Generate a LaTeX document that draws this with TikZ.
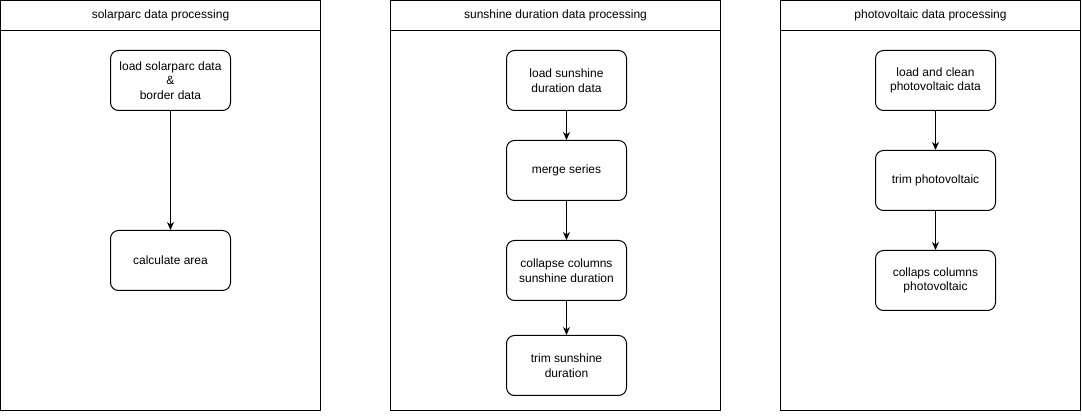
\documentclass[tikz,border=0pt]{standalone}
\usepackage{fontspec}
\setmainfont{Liberation Sans}
\usetikzlibrary{arrows.meta}
\begin{document}
\begin{tikzpicture}[x=1pt,y=-1pt,
  lane/.style={draw,line width=1pt,minimum height=30pt,inner sep=0pt,anchor=north west,font=\fontsize{12}{14}\selectfont},
  lanebody/.style={draw,line width=1pt,inner sep=0pt,anchor=north west},
  box/.style={draw,line width=1pt,rounded corners=8pt,minimum width=120pt,minimum height=60pt,inner sep=0pt,align=center,anchor=north west,font=\fontsize{12}{14.5}\selectfont},
  arr/.style={line width=1pt,-{Stealth[length=8pt,width=7pt,inset=2.5pt]}}]
\useasboundingbox (0,0) rectangle (1082,419);
% lanes
\node[lanebody,minimum width=320pt,minimum height=410pt] (L1) at (0,0) {};
\node[lane,minimum width=320pt] (H1) at (0,0) {solarparc data processing};
\node[lanebody,minimum width=330pt,minimum height=410pt] (L2) at (390,0) {};
\node[lane,minimum width=330pt] (H2) at (390,0) {sunshine duration data processing};
\node[lanebody,minimum width=300pt,minimum height=410pt] (L3) at (780,0) {};
\node[lane,minimum width=300pt] (H3) at (780,0) {photovoltaic data processing};
% lane 1
\node[box] (a1) at (110,50) {load solarparc data\\\&\\border data};
\node[box] (a2) at (110,230) {calculate area};
\draw[arr] (a1) -- (a2);
% lane 2
\node[box] (b1) at (506,50) {load sunshine\\duration data};
\node[box] (b2) at (506,140) {merge series};
\node[box] (b3) at (506,240) {collapse columns\\sunshine duration};
\node[box] (b4) at (506,335) {trim sunshine\\duration};
\draw[arr] (b1) -- (b2);
\draw[arr] (b2) -- (b3);
\draw[arr] (b3) -- (b4);
% lane 3
\node[box] (c1) at (875,50) {load and clean\\photovoltaic data};
\node[box] (c2) at (875,150) {trim photovoltaic};
\node[box] (c3) at (875,250) {collaps columns\\photovoltaic};
\draw[arr] (c1) -- (c2);
\draw[arr] (c2) -- (c3);
\end{tikzpicture}
\end{document}
